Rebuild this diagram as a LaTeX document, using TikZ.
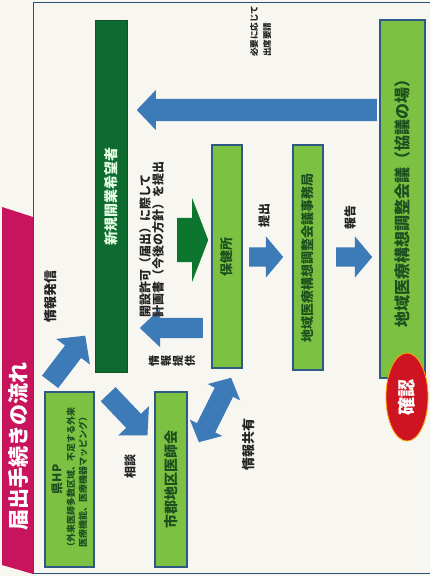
\documentclass[tikz,border=0pt]{standalone}
\usepackage{fontspec}
\newfontfamily\jp{Noto Sans CJK JP}
\usetikzlibrary{shapes.arrows,shapes.geometric}
\definecolor{bgc}{RGB}{248,246,240}
\definecolor{framec}{RGB}{44,79,124}
\definecolor{magc}{RGB}{200,20,92}
\definecolor{dgreen}{RGB}{14,107,47}
\definecolor{lgreen}{RGB}{124,193,66}
\definecolor{boxline}{RGB}{47,90,131}
\definecolor{txtgreen}{RGB}{28,80,30}
\definecolor{arrblue}{RGB}{61,122,184}
\definecolor{arrgreen}{RGB}{12,118,46}
\definecolor{redc}{RGB}{206,20,33}
\definecolor{labelc}{RGB}{35,35,35}
\tikzset{
  lbox/.style={draw=boxline, line width=1.1pt, fill=lgreen, text=txtgreen, rotate=90,
    inner sep=0pt, font=\jp\bfseries\fontsize{#1}{#1}\selectfont},
  dbox/.style={draw=dgreen!80!black, line width=0.8pt, fill=dgreen, text=green!10!white, rotate=90,
    inner sep=0pt, font=\jp\bfseries\fontsize{#1}{#1}\selectfont},
  barrow/.style={single arrow, fill=arrblue, draw=none, inner sep=0pt, minimum width=0pt, anchor=tail},
  lbl/.style={text=labelc, rotate=90, inner sep=0pt, font=\jp\bfseries\fontsize{#1}{#1}\selectfont}
}
\begin{document}
\begin{tikzpicture}[x=1pt,y=-1pt]
\useasboundingbox (0,0) rectangle (430,576);
\fill[bgc] (0,0) rectangle (430,576);
\begin{scope}
  \clip (0,0) rectangle (430,576);
  \draw[framec, line width=1.5pt] (33.5,2.5) rectangle (445,573.5);
\end{scope}
% title banner
\fill[magc] (2,207) -- (33,217) -- (33,574) -- (2,565) -- cycle;
\node[rotate=90, text=white, inner sep=0pt, font=\jp\bfseries\fontsize{21}{21}\selectfont] (title) at (18,446) {届出手続きの流れ};

% boxes
\node[dbox=14, minimum width=352pt, minimum height=32pt] (applicant) at (111,196) {新規開業希望者};
\node[lbox=16, minimum width=358pt, minimum height=45pt] (council) at (402.5,199) {地域医療構想調整会議（協議の場）};
\node[ellipse, rotate=90, fill=redc, draw=orange!70!yellow, line width=0.8pt, minimum width=88pt, minimum height=42pt,
  inner sep=0pt, text=white, font=\jp\bfseries\fontsize{18}{18}\selectfont] (confirm) at (407,397) {確認};
\node[lbox=13, minimum width=223pt, minimum height=30pt] (hc) at (227,256.5) {保健所};
\node[lbox=13, minimum width=225pt, minimum height=30pt] (sec) at (308,257.5) {地域医療構想調整会議事務局};
\node[lbox=12, minimum width=175pt, minimum height=49pt, align=center] (hp) at (69.5,479.5)
  {{\fontsize{12}{15}\selectfont 県HP}\\[1pt]{\fontsize{9}{11}\selectfont （外来医師多数区域、不足する外来}\\{\fontsize{9}{11}\selectfont 医療機能、医療機器マッピング）}};
\node[lbox=14, minimum width=175pt, minimum height=32pt] (med) at (171,479.5) {市郡地区医師会};

% arrows
\node[barrow, rotate=180, minimum height=240pt, inner ysep=11pt, single arrow head extend=9pt, single arrow tip angle=93] (reqarrow) at (377,110) {};
\node[barrow, fill=arrgreen, minimum height=31pt, inner ysep=22pt, single arrow head extend=20pt, single arrow tip angle=138] (planarrow) at (177,240) {};
\node[barrow, minimum height=34pt, inner ysep=9.5pt, single arrow head extend=11pt, single arrow tip angle=100] (subarrow) at (249,257) {};
\node[barrow, minimum height=36pt, inner ysep=9.5pt, single arrow head extend=11pt, single arrow tip angle=100] (reparrow) at (336,257) {};
\node[barrow, rotate=180, minimum height=63pt, inner ysep=10pt, single arrow head extend=9pt, single arrow tip angle=87] (provarrow) at (203,328) {};
\node[barrow, rotate=52.7, minimum height=58pt, inner ysep=10pt, single arrow head extend=11pt, single arrow tip angle=93] (infoarrow) at (50,382) {};
\node[barrow, rotate=-46.4, minimum height=57pt, inner ysep=10pt, single arrow head extend=11pt, single arrow tip angle=93] (consarrow) at (108,394) {};
\node[double arrow, fill=arrblue, draw=none, inner sep=0pt, minimum width=0pt, rotate=63.4, minimum height=72pt,
  inner ysep=10pt, double arrow head extend=8pt, double arrow tip angle=97] (sharearrow) at (215,410) {};

% labels
\node[lbl=13] (linfo) at (51,296) {情報発信};
\node[lbl=12] (lcons) at (130,466) {相談};
\node[lbl=13] (lshare) at (249,444) {情報共有};
\node[lbl=12] (lsub) at (264,215) {提出};
\node[lbl=12] (lrep) at (350,217) {報告};
\node[lbl=9, align=left, anchor=north west, font=\jp\bfseries\fontsize{8.5}{13}\selectfont] (lreq) at (250,57) {必要に応じて\\出席要請};
\node[lbl=12, align=left, anchor=north west, font=\jp\bfseries\fontsize{12}{13}\selectfont] (lplan) at (139,318)
  {開設許可（届出）に際して\\計画書（今後の方針）を提出};
\node[lbl=11, align=center, font=\jp\bfseries\fontsize{11}{12}\selectfont] (lprov) at (172,361) {情\\報\\提\\供};
\end{tikzpicture}
\end{document}
